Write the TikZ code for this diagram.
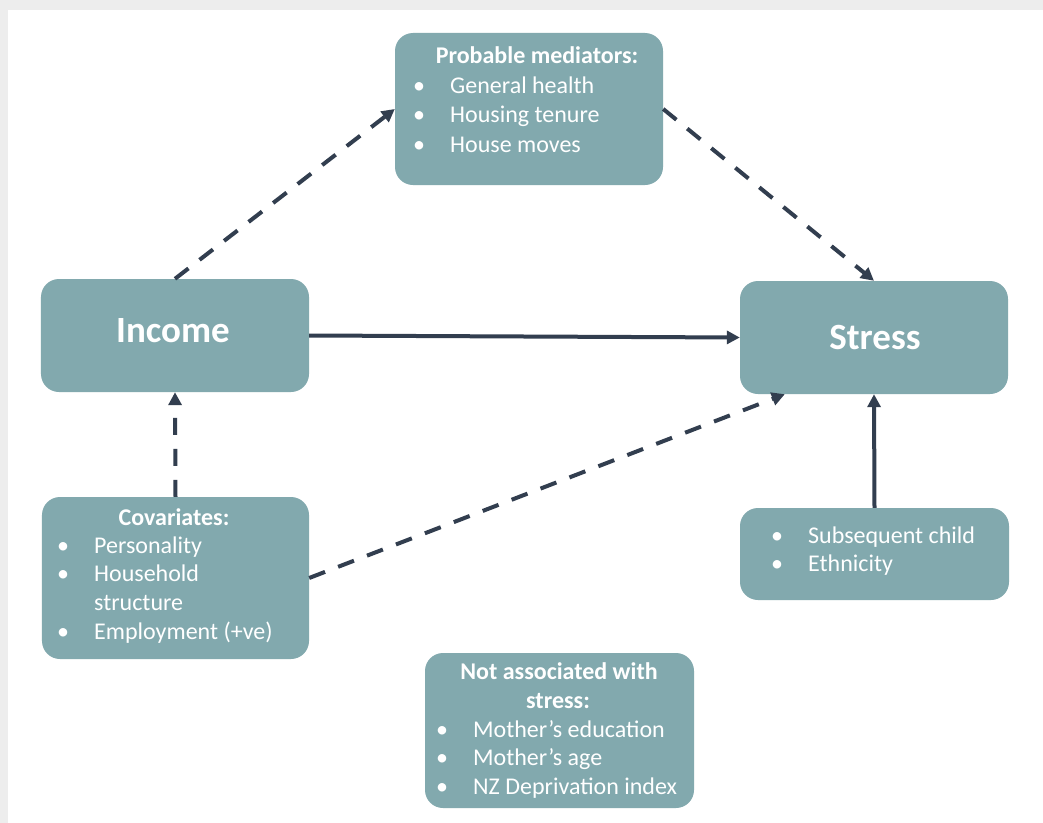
\documentclass[tikz,border=0pt]{standalone}
\usepackage{fontspec}
\setmainfont{Carlito}
\usetikzlibrary{arrows.meta}
\definecolor{boxfill}{HTML}{82A9AE}
\definecolor{linkcol}{HTML}{323E4F}
\definecolor{pagegray}{HTML}{EDEDED}
% bullet hanging to the left of an item's text
\newcommand\bul{\llap{\makebox[0pt][c]{\textbullet}\hspace{31bp}}}
\begin{document}
\begin{tikzpicture}[x=1bp,y=-1bp,
  box/.style={fill=boxfill, draw=none, rounded corners=18bp, inner sep=0pt},
  txt/.style={text=white, inner sep=0pt, font=\fontsize{24bp}{29bp}\selectfont},
  item/.style={txt, anchor=base west},
  head/.style={txt, anchor=base, font=\fontsize{24bp}{29bp}\selectfont\bfseries},
  big/.style={text=white, inner sep=0pt, anchor=base, font=\fontsize{37bp}{44bp}\selectfont\bfseries},
  link/.style={draw=linkcol, line width=4bp, -{Triangle[length=13bp,width=13bp]}},
  dlink/.style={link, dash pattern=on 17bp off 14bp},
]
% page background and frame
\fill[pagegray] (0,0) rectangle (1043,823);
\fill[white] (8,10) rectangle (1043,823);
\useasboundingbox (0,0) rectangle (1043,823);

% boxes
\node[box, minimum width=268bp, minimum height=152bp] (med) at (529,109) {};
\node[box, minimum width=268bp, minimum height=113bp] (inc) at (175,335.5) {};
\node[box, minimum width=268bp, minimum height=113bp] (str) at (874,337.5) {};
\node[box, minimum width=267bp, minimum height=162bp] (cov) at (175.5,578) {};
\node[box, minimum width=269bp, minimum height=92bp] (sub) at (874.5,554) {};
\node[box, minimum width=269bp, minimum height=155bp] (nas) at (559.5,730.5) {};

% box texts
\node[head] (medh) at (537,63) {Probable mediators:};
\node[item] (med1) at (450,93) {\bul General health};
\node[item] (med2) at (450,122) {\bul Housing tenure};
\node[item] (med3) at (450,152) {\bul House moves};

\node[big] (inct) at (173,342) {Income};
\node[big] (strt) at (875,349) {Stress};

\node[head] (covh) at (174,525) {Covariates:};
\node[item] (cov1) at (94,553) {\bul Personality};
\node[item] (cov2) at (94,581) {\bul Household};
\node[item] (cov3) at (94,610) {structure};
\node[item] (cov4) at (94,639) {\bul Employment (+ve)};

\node[item] (sub1) at (808,543) {\bul Subsequent child};
\node[item] (sub2) at (808,571) {\bul Ethnicity};

\node[head] (nash1) at (559,679) {Not associated with};
\node[head] (nash2) at (558,708) {stress:};
\node[item] (nas1) at (473,737) {\bul Mother’s education};
\node[item] (nas2) at (473,765) {\bul Mother’s age};
\node[item] (nas3) at (473,794) {\bul NZ Deprivation index};

% connectors
\draw[dlink] (inc.north) -- (med.west);
\draw[dlink] (med.east) -- (str.north);
\draw[link] (inc.east) -- (str.west);
\draw[dlink] (cov.north) -- (inc.south);
\draw[dlink] (cov.east) -- ([xshift=45bp]str.south west);
\draw[link] (sub.north) -- (str.south);
\end{tikzpicture}
\end{document}
